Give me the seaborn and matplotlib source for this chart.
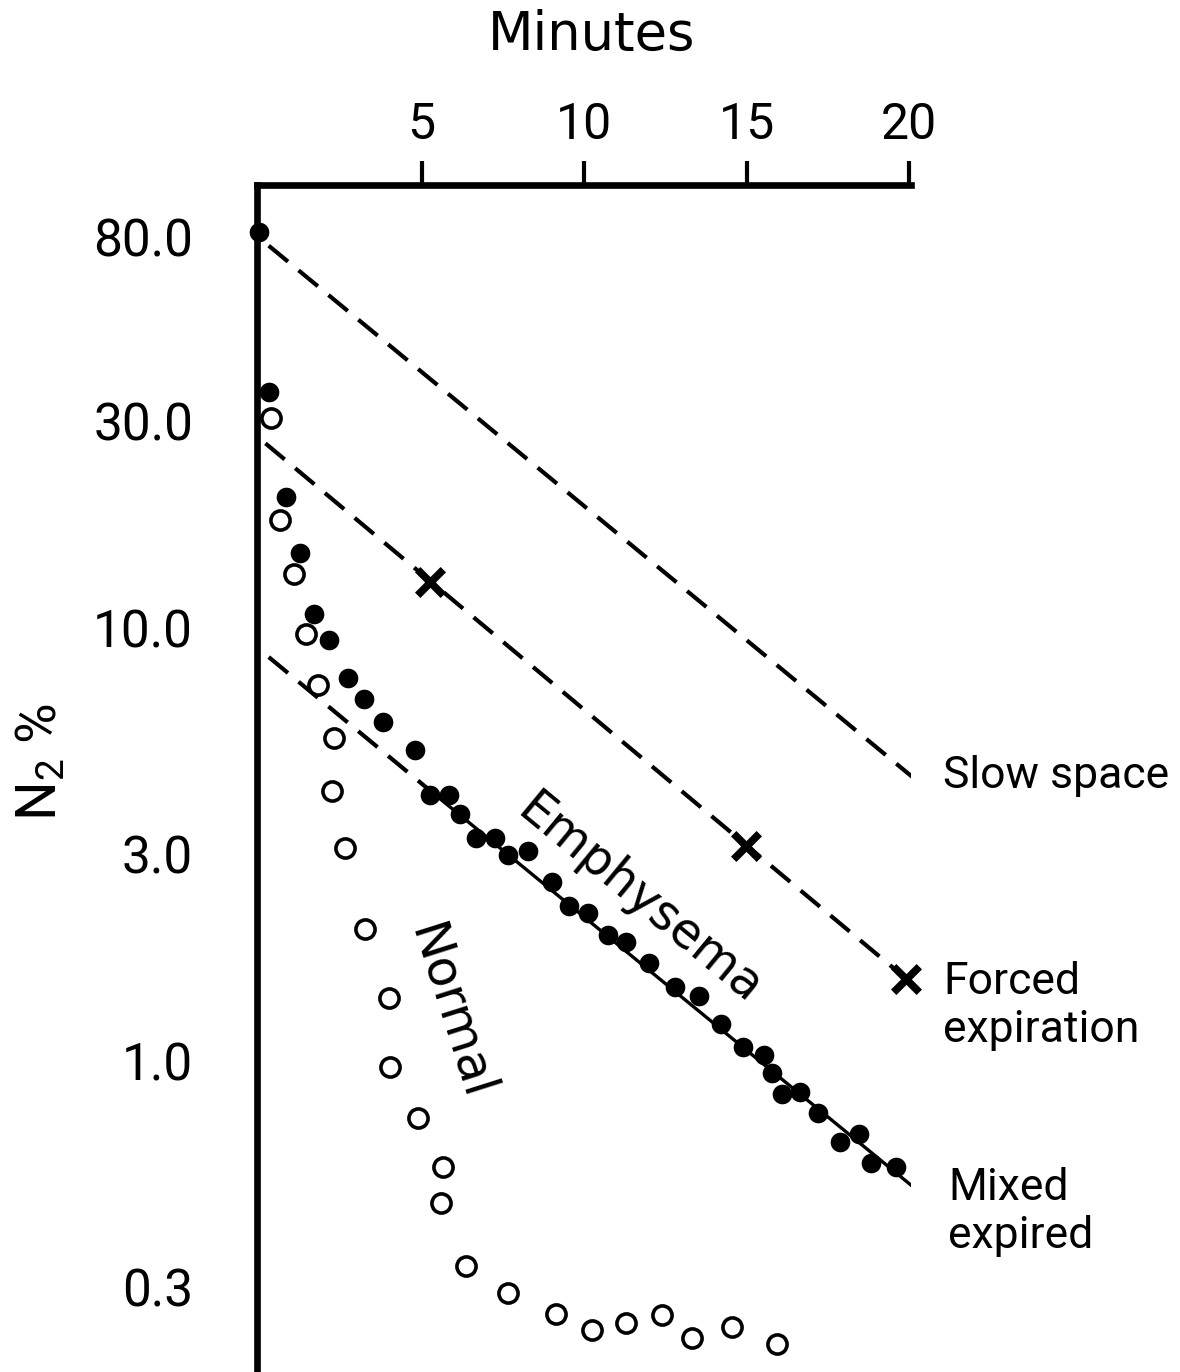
import matplotlib
matplotlib.use("Agg")
import matplotlib.pyplot as plt
from matplotlib.ticker import NullLocator
import seaborn as sns

# ---------------- data ----------------
# Emphysema, mixed expired N2 (filled dots)
t_mixed = [0.0, 0.3, 0.83, 1.26, 1.69, 2.15, 2.73, 3.22, 3.80, 4.79, 5.25, 5.83,
           6.17, 6.66, 7.27, 7.67, 8.28, 9.02, 9.54, 10.12, 10.74, 11.29, 12.0,
           12.79, 13.53, 14.2, 14.88, 15.52, 15.77, 16.07, 16.63, 17.2, 17.88,
           18.44, 18.83, 19.6]
n2_mixed = [82, 35.1, 20.1, 14.9, 10.8, 9.4, 7.66, 6.86, 6.06, 5.23, 4.11, 4.11,
            3.72, 3.27, 3.27, 2.99, 3.05, 2.59, 2.28, 2.20, 1.95, 1.88, 1.68,
            1.48, 1.41, 1.22, 1.08, 1.03, 0.94, 0.84, 0.85, 0.76, 0.65,
            0.68, 0.58, 0.57]

# Normal subject (open circles)
t_normal = [0.37, 0.64, 1.07, 1.44, 1.81, 2.30, 2.24, 2.64, 3.25, 3.99, 4.02, 4.88,
            5.67, 5.61, 6.38, 7.67, 9.14, 10.25, 11.29, 12.39, 13.31, 14.54, 15.92]
n2_normal = [30.5, 17.8, 13.3, 9.7, 7.4, 5.57, 4.2, 3.1, 2.02, 1.40, 0.97, 0.74,
             0.57, 0.47, 0.336, 0.291, 0.26, 0.239, 0.248, 0.259, 0.229, 0.243, 0.222]

# Forced expiration (crosses)
t_forced = [5.25, 14.97, 19.9]
n2_forced = [12.8, 3.14, 1.55]

# Fitted exponential components (straight lines on the log scale)
slow_t = [0.3, 20.2]
slow_n2 = [76.4, 4.46]
forced_fit_t = [0.2, 20.7]
forced_fit_n2 = [26.7, 1.38]
mixed_dash_t = [0.3, 5.25]
mixed_dash_n2 = [8.57, 4.22]
mixed_solid_t = [5.25, 20.6]
mixed_solid_n2 = [4.22, 0.478]

x_ticks = [5, 10, 15, 20]
x_tick_labels = ["5", "10", "15", "20"]
y_ticks = [80, 30, 10, 3, 1, 0.3]
y_tick_labels = ["80.0", "30.0", "10.0", "3.0", "1.0", "0.3"]

# ---------------- style ----------------
sns.set_style("white")
NARROW = ["Roboto", "DejaVu Sans"]
WIDE = ["DejaVu Sans"]
plt.rcParams["font.family"] = NARROW
plt.rcParams["mathtext.default"] = "regular"
plt.rcParams["text.color"] = "black"
plt.rcParams["axes.labelcolor"] = "black"
plt.rcParams["xtick.color"] = "black"
plt.rcParams["ytick.color"] = "black"

fig = plt.figure(figsize=(11.8, 13.72), dpi=100)
ax = fig.add_axes([257 / 1180, 0.0, 654 / 1180, 1187 / 1372])
ax.set_yscale("log")
ax.set_xlim(-0.06, 20.05)
ax.set_ylim(0.1913, 105.5)

dash = (0, (6, 3.3))
sns.lineplot(x=slow_t, y=slow_n2, ax=ax, color="black", lw=3, linestyle=dash,
             estimator=None, zorder=2)
sns.lineplot(x=forced_fit_t, y=forced_fit_n2, ax=ax, color="black", lw=3,
             linestyle=dash, estimator=None, zorder=2)
sns.lineplot(x=mixed_dash_t, y=mixed_dash_n2, ax=ax, color="black", lw=3,
             linestyle=dash, estimator=None, zorder=2)
sns.lineplot(x=mixed_solid_t, y=mixed_solid_n2, ax=ax, color="black", lw=2.4,
             estimator=None, zorder=2)

sns.scatterplot(x=t_normal, y=n2_normal, ax=ax, marker="o", s=190, color="white",
                edgecolor="black", linewidth=2.6, zorder=4, clip_on=False)
sns.scatterplot(x=t_mixed, y=n2_mixed, ax=ax, marker="o", s=200, color="black",
                edgecolor="black", linewidth=0, zorder=5, clip_on=False)
sns.scatterplot(x=t_forced, y=n2_forced, ax=ax, marker="x", s=340, color="black",
                edgecolor="black", linewidth=5.5, zorder=5, clip_on=False)

# ---------------- axes ----------------
ax.xaxis.tick_top()
ax.xaxis.set_label_position("top")
ax.set_xticks(x_ticks)
ax.set_xticklabels(x_tick_labels)
ax.set_yticks(y_ticks)
ax.set_yticklabels(y_tick_labels)
ax.yaxis.set_minor_locator(NullLocator())
ax.xaxis.set_minor_locator(NullLocator())
ax.tick_params(axis="both", which="major", direction="out", length=17, width=3,
               color="black", labelcolor="black")
ax.tick_params(axis="x", pad=9, labelsize=36)
ax.tick_params(axis="y", pad=29, labelsize=37)
for s in ["right", "bottom"]:
    ax.spines[s].set_visible(False)
for s in ["left", "top"]:
    ax.spines[s].set_linewidth(4.8)
    ax.spines[s].set_color("black")
    ax.spines[s].set_capstyle("projecting")
ax.grid(False)

ax.set_xlabel("Minutes", fontsize=38, family=WIDE, color="black")
ax.xaxis.set_label_coords(0.511, 1.114)
ax.set_ylabel("N$_2$ %", fontsize=40, color="black")
ax.yaxis.set_label_coords(-0.29, 0.514)

# ---------------- annotations ----------------
ax.text(21.04, 4.55, "Slow space", fontsize=32, ha="left", va="center")
ax.text(21.04, 1.34, "Forced\nexpiration", fontsize=32, ha="left", va="center",
        linespacing=1.2)
ax.text(21.2, 0.448, "Mixed\nexpired", fontsize=32, ha="left", va="center",
        linespacing=1.2)
ax.text(11.69, 2.37, "Emphysema", fontsize=35, family=WIDE, rotation=-39.5,
        rotation_mode="anchor", ha="center", va="center")
ax.text(5.89, 1.30, "Normal", fontsize=36, family=WIDE, rotation=-72.4,
        rotation_mode="anchor", ha="center", va="center")

fig.savefig("out.png", dpi=100)
